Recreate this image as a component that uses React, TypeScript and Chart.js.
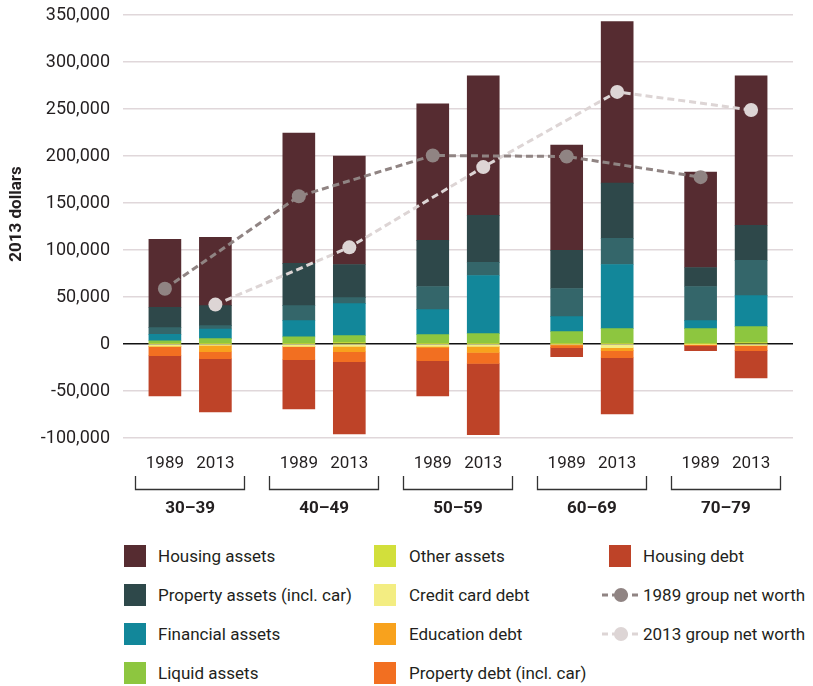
import React, { useEffect, useRef } from 'react';
import { Chart, registerables } from 'chart.js';

Chart.register(...registerables);

// ---- Data (thousands of 2013 dollars) ----
const groups = ['30–39', '40–49', '50–59', '60–69', '70–79'];
const years = ['1989', '2013'];
// bar order: 30–39 1989, 30–39 2013, 40–49 1989, 40–49 2013, ...
const otherAssets = [0.7, 0.7, 0.7, 1.4, 0.7, 0.7, 0.7, 0.7, 0.7, 1.4];
const liquidAssets = [2.8, 5.0, 6.8, 7.5, 9.2, 10.3, 12.4, 15.6, 15.6, 17.0];
const financialAssets = [6.7, 10.3, 17.4, 34.1, 26.7, 61.9, 16.0, 68.3, 8.6, 33.1];
const businessAssets = [7.2, 3.5, 16.0, 6.4, 24.6, 13.9, 29.9, 27.8, 36.3, 37.5];
const propertyAssets = [21.7, 21.4, 44.8, 35.2, 49.0, 50.1, 40.6, 58.7, 20.2, 37.3];
const housingAssets = [72.2, 72.5, 138.7, 115.3, 145.2, 148.4, 112.0, 171.8, 101.4, 159.0];
const creditCardDebt = [-2.3, -1.4, -2.5, -2.5, -2.6, -2.5, -0.8, -4.0, -0.5, -1.4];
const educationDebt = [-0.5, -6.8, -0.3, -5.7, -1.0, -6.5, -0.5, -3.0, -0.3, -0.5];
const propertyDebt = [-9.7, -7.5, -14.0, -10.7, -14.2, -11.7, -2.5, -7.6, -1.0, -5.2];
const housingDebt = [-42.7, -56.6, -52.2, -76.8, -37.4, -75.8, -9.8, -59.8, -5.4, -28.9];
const netWorth1989 = [58.7, 157.2, 200.5, 199.5, 177.5];
const netWorth2013 = [41.9, 102.8, 188.2, 268.2, 249.0];
const yMin = -100000;
const yMax = 350000;
const yStep = 50000;

// ---- Styles / layout ----
const FONT = 'Roboto, "Noto Sans", sans-serif';
const TEXT = '#231f20';
const GROUP_STEP = 2.653;
const EDGE = 0.83;
const xPos = (g: number, yi: number) => g * GROUP_STEP + yi;

const barSeries = [
  { label: 'Other assets', data: otherAssets, color: '#d2df3b', legend: true },
  { label: 'Liquid assets', data: liquidAssets, color: '#8dc63f', legend: true },
  { label: 'Financial assets', data: financialAssets, color: '#12879a', legend: true },
  { label: 'Business assets', data: businessAssets, color: '#34666a', legend: false },
  { label: 'Property assets (incl. car)', data: propertyAssets, color: '#2e484a', legend: true },
  { label: 'Housing assets', data: housingAssets, color: '#562c31', legend: true },
  { label: 'Credit card debt', data: creditCardDebt, color: '#f3ed82', legend: true },
  { label: 'Education debt', data: educationDebt, color: '#f8a21d', legend: true },
  { label: 'Property debt (incl. car)', data: propertyDebt, color: '#f26f21', legend: true },
  { label: 'Housing debt', data: housingDebt, color: '#be4328', legend: true },
];
const lineSeries = [
  { label: '1989 group net worth', data: netWorth1989, color: '#908483', yi: 0 },
  { label: '2013 group net worth', data: netWorth2013, color: '#ddd5d5', yi: 1 },
];

const legendColumns: string[][] = [
  ['Housing assets', 'Property assets (incl. car)', 'Financial assets', 'Liquid assets'],
  ['Other assets', 'Credit card debt', 'Education debt', 'Property debt (incl. car)'],
  ['Housing debt', '1989 group net worth', '2013 group net worth'],
];
const legendColX = [124, 374, 609];
const legendTextX = [158, 409, 643];
const legendRowY = [556, 595, 634, 673];

const axisPlugin = {
  id: 'groupAxis',
  afterDraw(chart: any) {
    const { ctx, scales } = chart;
    const xs = scales.x;
    ctx.save();
    ctx.fillStyle = TEXT;
    ctx.strokeStyle = '#333';
    ctx.lineWidth = 1.3;
    ctx.textAlign = 'center';
    ctx.textBaseline = 'middle';
    groups.forEach((g, gi) => {
      years.forEach((y, yi) => {
        ctx.font = `17px ${FONT}`;
        ctx.fillText(y, xs.getPixelForValue(xPos(gi, yi)), 464);
      });
      const c = (xs.getPixelForValue(xPos(gi, 0)) + xs.getPixelForValue(xPos(gi, 1))) / 2;
      const l = Math.round(c - 55) + 0.5;
      const r = Math.round(c + 54) + 0.5;
      ctx.beginPath();
      ctx.moveTo(l, 476);
      ctx.lineTo(l, 489.5);
      ctx.lineTo(r, 489.5);
      ctx.lineTo(r, 476);
      ctx.stroke();
      ctx.font = `bold 17px ${FONT}`;
      ctx.fillText(g, c, 509);
    });
    // y axis title
    ctx.translate(17, 214);
    ctx.rotate(-Math.PI / 2);
    ctx.font = `bold 17px ${FONT}`;
    ctx.fillText('2013 dollars', 0, 0);
    ctx.restore();
  },
};

function LegendMarker({ label }: { label: string }) {
  const bar = barSeries.find((s) => s.label === label);
  if (bar) {
    return <div style={{ width: 22, height: 22, background: bar.color }} />;
  }
  const line = lineSeries.find((s) => s.label === label)!;
  return (
    <svg width={38} height={16}>
      <line x1={0} y1={8} x2={38} y2={8} stroke={line.color} strokeWidth={3} strokeDasharray="6 4" />
      <circle cx={19} cy={8} r={7} fill={line.color} />
    </svg>
  );
}

export default function App() {
  const ref = useRef<HTMLCanvasElement>(null);
  useEffect(() => {
    const datasets: any[] = [];
    lineSeries.forEach((s) => {
      datasets.push({
        type: 'line',
        label: s.label,
        data: s.data.map((v, g) => ({ x: xPos(g, s.yi), y: v * 1000 })),
        borderColor: s.color,
        backgroundColor: s.color,
        borderWidth: 3,
        borderDash: [7, 4],
        pointRadius: 7,
        pointBorderWidth: 0,
        pointBackgroundColor: s.color,
        stack: 'nw' + s.yi,
        order: -1,
        fill: false,
      });
    });
    barSeries.forEach((s) => {
      datasets.push({
        type: 'bar',
        label: s.label,
        data: s.data.map((v, i) => ({ x: xPos(Math.floor(i / 2), i % 2), y: v * 1000 })),
        backgroundColor: s.color,
        borderWidth: 0,
        barThickness: 32,
        stack: 'bars',
        order: 0,
      });
    });
    const chart = new Chart(ref.current!, {
      type: 'bar',
      data: { datasets },
      options: {
        responsive: false,
        animation: false,
        devicePixelRatio: 1,
        layout: { padding: { left: 0, top: 15, right: 20, bottom: 92 } },
        plugins: { legend: { display: false }, tooltip: { enabled: false } },
        scales: {
          x: {
            type: 'linear',
            stacked: true,
            display: false,
            offset: false,
            min: -EDGE,
            max: xPos(groups.length - 1, 1) + EDGE,
          },
          y: {
            stacked: true,
            min: yMin,
            max: yMax,
            border: { display: false },
            grid: {
              drawTicks: false,
              lineWidth: 1.5,
              color: (c: any) => (c.tick && c.tick.value === 0 ? '#111' : '#e0d7da'),
            },
            ticks: {
              stepSize: yStep,
              padding: 13,
              color: TEXT,
              font: { family: FONT, size: 18 },
              callback: (v: any) => Number(v).toLocaleString('en-US'),
            },
            afterFit: (scale: any) => {
              scale.width = 123;
              scale.paddingTop = 0;
              scale.paddingBottom = 0;
            },
          },
        },
      } as any,
      plugins: [axisPlugin],
    });
    return () => chart.destroy();
  }, []);

  return (
    <div style={{ position: 'absolute', left: 0, top: 0, width: 813, height: 686, background: '#fff', fontFamily: FONT }}>
      <canvas ref={ref} width={813} height={530} style={{ display: 'block' }} />
      {legendColumns.map((col, ci) =>
        col.map((label, ri) => (
          <React.Fragment key={label}>
            <div
              style={{
                position: 'absolute',
                left: barSeries.some((s) => s.label === label) ? legendColX[ci] : legendColX[ci] - 7,
                top: legendRowY[ri],
                transform: 'translateY(-50%)',
                display: 'flex',
                alignItems: 'center',
              }}
            >
              <LegendMarker label={label} />
            </div>
            <div
              style={{
                position: 'absolute',
                left: legendTextX[ci],
                top: legendRowY[ri],
                transform: 'translateY(-50%)',
                fontSize: 17,
                color: TEXT,
                whiteSpace: 'nowrap',
                lineHeight: '20px',
              }}
            >
              {label}
            </div>
          </React.Fragment>
        ))
      )}
    </div>
  );
}
